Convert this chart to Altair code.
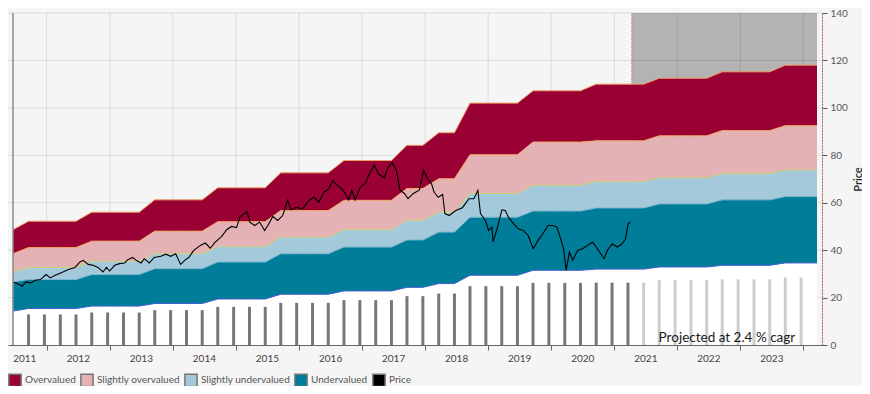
import altair as alt
import pandas as pd

# ---------------- data ----------------
# quarterly points of the valuation bands (Dec 2010 .. Sep 2023)
quarter_dates = ["2010-12-18"] + [f"{y}-{m:02d}-18" for y in range(2011, 2024) for m in (3, 6, 9, 12)][:-1]

top_edge = [48.6,
            52.2, 52.2, 52.2, 52.2, 56.0, 56.0, 56.0, 56.0, 61.2, 61.2, 61.2, 61.2,
            66.3, 66.3, 66.3, 66.3, 72.6, 72.6, 72.6, 72.6, 77.8, 77.8, 77.8, 77.8,
            84.2, 84.2, 89.5, 89.5, 102.0, 102.0, 102.0, 102.0, 107.2, 107.2, 107.2, 107.2,
            110.0, 110.0, 110.0, 110.0, 112.5, 112.5, 112.5, 112.5, 115.2, 115.2, 115.2, 115.2,
            118.0, 118.0, 118.0]
over_edge = [38.5,
             41.1, 41.1, 41.1, 41.1, 43.8, 43.8, 43.8, 43.8, 48.0, 48.0, 48.0, 48.0,
             52.0, 52.0, 52.0, 52.0, 56.7, 56.7, 56.7, 56.7, 61.0, 61.0, 61.0, 61.0,
             66.0, 66.0, 70.1, 70.1, 80.2, 80.2, 80.2, 80.2, 85.6, 85.6, 85.6, 85.6,
             86.1, 86.1, 86.1, 86.1, 88.2, 88.2, 88.2, 88.2, 90.4, 90.4, 90.4, 90.4,
             92.5, 92.5, 92.5]
fair_edge = [30.8,
             32.7, 32.7, 32.7, 32.7, 35.3, 35.3, 35.3, 35.3, 38.5, 38.5, 38.5, 38.5,
             41.5, 41.5, 41.5, 41.5, 45.5, 45.5, 45.5, 45.5, 48.6, 48.6, 48.6, 48.6,
             52.5, 52.5, 56.0, 56.0, 63.9, 63.9, 63.9, 63.9, 67.3, 67.3, 67.3, 67.3,
             68.9, 68.9, 68.9, 68.9, 70.5, 70.5, 70.5, 70.5, 72.2, 72.2, 72.2, 72.2,
             73.8, 73.8, 73.8]
under_edge = [26.6,
              27.6, 27.6, 27.6, 27.6, 29.7, 29.7, 29.7, 29.7, 32.2, 32.2, 32.2, 32.2,
              35.0, 35.0, 35.0, 35.0, 38.5, 38.5, 38.5, 38.5, 41.3, 41.3, 41.3, 41.3,
              44.3, 44.3, 47.6, 47.6, 53.9, 53.9, 53.9, 53.9, 56.5, 56.5, 56.5, 56.5,
              57.8, 57.8, 57.8, 57.8, 59.5, 59.5, 59.5, 59.5, 61.2, 61.2, 61.2, 61.2,
              62.6, 62.6, 62.6]
low_edge = [14.3,
            15.4, 15.4, 15.4, 15.4, 16.4, 16.4, 16.4, 16.4, 17.5, 17.5, 17.5, 17.5,
            19.4, 19.4, 19.4, 19.4, 21.4, 21.4, 21.4, 21.4, 22.8, 22.8, 22.8, 22.8,
            24.3, 24.3, 25.9, 25.9, 29.4, 29.4, 29.4, 29.4, 31.5, 31.5, 31.5, 31.5,
            32.0, 32.0, 32.0, 32.0, 32.9, 32.9, 32.9, 32.9, 33.6, 33.6, 33.6, 33.6,
            34.6, 34.6, 34.6]

# quarterly bars (Mar 2011 .. Jun 2023)
bar_dates = quarter_dates[1:-1]
bar_values = [12.9, 12.9, 12.9, 12.9, 13.7, 13.7, 13.7, 13.7, 14.7, 14.7, 14.7, 14.7,
              16.1, 16.1, 16.1, 16.1, 17.8, 17.8, 17.8, 17.8, 18.9, 18.9, 18.9, 18.9,
              20.6, 20.6, 21.7, 21.7, 24.8, 24.8, 24.8, 24.8, 26.2, 26.2, 26.2, 26.2,
              26.3, 26.3, 26.3, 26.3, 27.3, 27.3, 27.3, 27.3, 27.7, 27.7, 27.7, 27.7,
              28.4, 28.4]
projection_start = "2020-10-10"

# share price (decimal year, price)
price_t = [2010.965, 2011.031, 2011.110, 2011.162, 2011.240, 2011.318, 2011.397, 2011.486,
           2011.554, 2011.632, 2011.737, 2011.841, 2011.946, 2012.024, 2012.076, 2012.154,
           2012.233, 2012.311, 2012.389, 2012.443, 2012.494, 2012.573, 2012.651, 2012.730,
           2012.781, 2012.860, 2012.913, 2012.992, 2013.043, 2013.122, 2013.200, 2013.305,
           2013.384, 2013.462, 2013.540, 2013.619, 2013.697, 2013.749, 2013.827, 2013.932,
           2014.011, 2014.089, 2014.168, 2014.271, 2014.350, 2014.428, 2014.506, 2014.560,
           2014.611, 2014.674, 2014.716, 2014.795, 2014.873, 2014.952, 2015.004, 2015.082,
           2015.160, 2015.239, 2015.317, 2015.369, 2015.447, 2015.552, 2015.657, 2015.736,
           2015.814, 2015.893, 2015.971, 2016.034, 2016.101, 2016.180, 2016.231, 2016.285,
           2016.336, 2016.388, 2016.467, 2016.545, 2016.623, 2016.692, 2016.755, 2016.849,
           2016.912, 2016.975, 2017.042, 2017.094, 2017.172, 2017.225, 2017.304, 2017.407,
           2017.473, 2017.535, 2017.598, 2017.639, 2017.705, 2017.774, 2017.810, 2017.878,
           2017.983, 2018.088, 2018.192, 2018.270, 2018.333, 2018.375, 2018.453, 2018.505,
           2018.558, 2018.574, 2018.637, 2018.715, 2018.767, 2018.819, 2018.897, 2018.976,
           2019.054, 2019.132, 2019.211, 2019.289, 2019.367, 2019.446, 2019.524, 2019.587,
           2019.656, 2019.697, 2019.734, 2019.786, 2019.838, 2019.916, 2019.995, 2020.073,
           2020.152, 2020.230, 2020.335, 2020.387, 2020.466, 2020.544, 2020.622, 2020.675,
           2020.716, 2020.755]
price_v = [26.6, 25.9, 24.8, 26.6, 26.2, 27.3, 27.6, 29.7,
           28.3, 29.4, 30.6, 31.8, 32.7, 35.0, 35.7, 34.0,
           33.6, 32.7, 30.8, 32.7, 31.2, 33.6, 34.3, 34.6,
           36.0, 36.9, 35.7, 34.6, 36.4, 34.6, 36.9, 37.4,
           38.3, 37.4, 38.5, 34.0, 36.0, 36.9, 39.9, 42.0,
           43.0, 40.8, 43.4, 45.8, 48.6, 50.0, 49.5, 53.9,
           55.1, 56.2, 51.8, 50.4, 51.8, 48.3, 50.4, 54.2,
           52.5, 54.6, 61.0, 57.0, 58.1, 57.4, 61.0, 62.3,
           60.2, 64.4, 65.8, 69.4, 67.3, 65.8, 63.8, 61.2,
           65.2, 61.2, 66.5, 68.0, 72.8, 75.7, 72.2, 70.5,
           74.9, 77.0, 73.6, 65.4, 63.8, 61.7, 63.8, 65.4,
           73.6, 70.1, 68.0, 64.4, 62.3, 63.5, 55.4, 54.6,
           56.7, 57.9, 61.7, 61.7, 65.2, 55.4, 52.5, 48.3,
           49.7, 43.4, 49.0, 57.0, 56.7, 53.9, 51.2, 49.0,
           48.3, 46.2, 40.6, 44.1, 47.0, 50.4, 50.4, 49.7,
           44.1, 39.9, 31.5, 39.2, 35.7, 39.9, 40.6, 42.0,
           43.4, 40.6, 36.4, 39.9, 42.7, 41.3, 42.7, 44.8,
           51.2, 51.8]

band_names = ["Overvalued", "Slightly overvalued", "Slightly undervalued", "Undervalued", "Price"]
band_colors = ["#990033", "#e4b2b5", "#a3c9da", "#007e99", "#000000"]
edge_colors = ["#f0a060", "#f0a060", "#cdd27c", "#7fb6cf", "#3d5fd0"]

y_ticks = [0, 20, 40, 60, 80, 100, 120, 140]
year_list = list(range(2011, 2024))
note_text = "Projected at 2.4 % cagr"

# ---------------- tables ----------------
def dec_to_date(t):
    y = int(t)
    start = pd.Timestamp(year=y, month=1, day=1)
    end = pd.Timestamp(year=y + 1, month=1, day=1)
    return start + (end - start) * (t - y)

qd = pd.to_datetime(quarter_dates)
edges = [top_edge, over_edge, fair_edge, under_edge, low_edge]
band_rows = []
for i, name in enumerate(band_names[:4]):
    for d, hi, lo in zip(qd, edges[i], edges[i + 1]):
        band_rows.append({"date": d, "band": name, "hi": hi, "lo": lo})
bands = pd.DataFrame(band_rows)
white = pd.DataFrame({"date": qd, "hi": low_edge, "lo": [0] * len(qd)})
bars = pd.DataFrame({"date": pd.to_datetime(bar_dates), "hi": bar_values})
bars["proj"] = bars["date"] > pd.Timestamp(projection_start)
price = pd.DataFrame({"date": [dec_to_date(t) for t in price_t], "hi": price_v})

x_start, x_end = qd.min(), qd.max()
proj = pd.DataFrame({"date": [pd.Timestamp(projection_start)], "date2": [x_end],
                     "hi": [y_ticks[-1]], "lo": [0]})
grid_h = pd.DataFrame({"hi": y_ticks[1:]})
grid_v = pd.DataFrame({"date": [pd.Timestamp(year=y, month=7, day=1) for y in year_list]})
left_line = pd.DataFrame({"date": [x_start]})
note = pd.DataFrame({"date": [pd.Timestamp("2023-05-15")], "hi": [1.4], "text": [note_text]})

# ---------------- scales / axes ----------------
FONT = "Lato"
xscale = alt.Scale(domain=[x_start.isoformat(), x_end.isoformat()], nice=False)
yscale = alt.Scale(domain=[0, 140], nice=False, zero=False)
xaxis = alt.Axis(
    values=[alt.DateTime(year=y, month=7, date=1) for y in year_list],
    labelExpr="timeFormat(datum.value, '%Y')",
    labelOffset={"condition": {"test": "datum.index == 0", "value": -34}, "value": -32},
    labelAlign={"condition": {"test": "datum.index == 0", "value": "left"}, "value": "center"},
    labelOverlap=False, grid=False, tickSize=5, tickColor="#666", domainColor="#666",
    labelColor="#444", labelFont=FONT, labelFontSize=10, labelPadding=3, title=None,
)
yaxis = alt.Axis(
    orient="right", values=y_ticks, grid=False, tickSize=5, tickColor="#555",
    domainColor="#9a5a5a", domainDash=[2, 1], labelColor="#555", labelFont=FONT,
    labelFontSize=10, labelPadding=3, title="Price", titleFont=FONT, titleFontSize=11,
    titleColor="#222", titleFontWeight=600, titleAngle=270, titleX=36, titleY=166,
    titleAlign="center", titleBaseline="middle",
)
X = lambda f="date": alt.X(f"{f}:T", scale=xscale, axis=xaxis)
Y = lambda f="hi": alt.Y(f"{f}:Q", scale=yscale, axis=yaxis)

layers = []
layers.append(alt.Chart(proj).mark_rect(color="#b3b3b3").encode(
    x=X(), x2="date2:T", y=Y(), y2="lo:Q"))
layers.append(alt.Chart(proj).mark_rule(color="#d46a6a", strokeDash=[1, 1], strokeWidth=1).encode(
    x=X(), y=Y(), y2="lo:Q"))
layers.append(alt.Chart(grid_h).mark_rule(color="rgba(0,0,0,0.1)", strokeWidth=1).encode(y=Y()))
layers.append(alt.Chart(grid_v).mark_rule(color="rgba(0,0,0,0.1)", strokeWidth=1).encode(x=X()))
layers.append(alt.Chart(white).mark_area(color="#ffffff", opacity=1).encode(
    x=X(), y=alt.Y("hi:Q", scale=yscale, axis=yaxis, stack=None), y2="lo:Q"))
layers.append(alt.Chart(bars).mark_bar(size=3).encode(
    x=X(), y=Y(),
    color=alt.condition("datum.proj", alt.value("#cccccc"), alt.value("#777777"))))
layers.append(alt.Chart(bands).mark_area(opacity=1).encode(
    x=X(), y=alt.Y("hi:Q", scale=yscale, axis=yaxis, stack=None), y2="lo:Q",
    color=alt.Color("band:N", scale=alt.Scale(domain=band_names, range=band_colors),
                    legend=alt.Legend(
                        orient="none", legendX=0, legendY=360, direction="horizontal",
                        title=None, symbolType="square", symbolSize=150,
                        symbolStrokeColor="#777", symbolStrokeWidth=1.5, symbolOpacity=1,
                        labelFont=FONT, labelFontSize=10, labelColor="#555",
                        labelOffset=3, columnPadding=1, padding=0)),
    detail="band:N"))
for edge, col in zip(edges, edge_colors):
    ed = pd.DataFrame({"date": qd, "hi": edge})
    layers.append(alt.Chart(ed).mark_line(color=col, strokeWidth=1).encode(x=X(), y=Y()))
layers.append(alt.Chart(price).mark_line(color="#000000", strokeWidth=1.1).encode(x=X(), y=Y()))
layers.append(alt.Chart(left_line).mark_rule(color="#888888", strokeWidth=1.5).encode(x=X()))
layers.append(alt.Chart(note).mark_text(align="right", baseline="alphabetic", font=FONT,
                                        fontSize=13.5, fontWeight=400, color="#1a1a1a").encode(
    x=X(), y=Y(), text="text:N"))

chart = alt.layer(*layers).properties(
    width=814, height=332,
    autosize=alt.AutoSizeParams(type="none"),
    padding={"left": 0, "top": 5, "right": 40, "bottom": 41},
    background="#f5f5f5",
).configure_view(stroke=None)

chart.save("out.html", embed_options={"renderer": "svg", "actions": False})
